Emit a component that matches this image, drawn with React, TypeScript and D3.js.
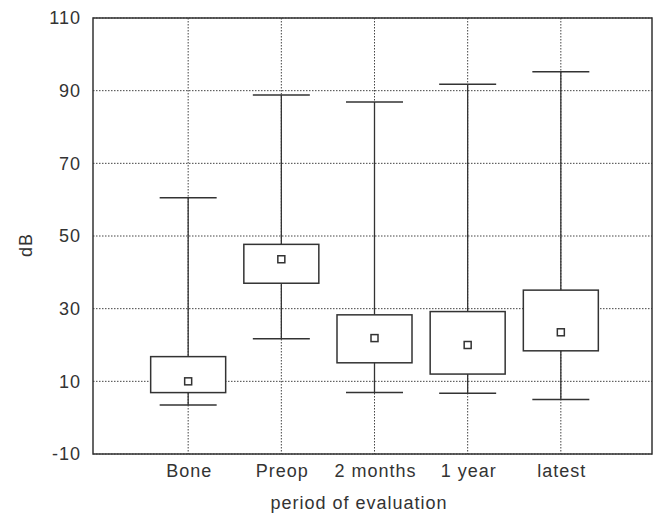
import React from "react";
import { scaleLinear, scalePoint } from "d3";

// hearing thresholds per evaluation period (dB)
const categories = ["Bone", "Preop", "2 months", "1 year", "latest"];
const whiskerLow = [3.5, 21.7, 6.9, 6.7, 5];
const boxLow = [6.9, 37, 15.1, 12, 18.4];
const medians = [10, 43.6, 21.9, 20, 23.5];
const boxHigh = [16.8, 47.7, 28.3, 29.2, 35.1];
const whiskerHigh = [60.5, 88.8, 86.9, 91.8, 95.2];
const yTicks = [-10, 10, 30, 50, 70, 90, 110];

const width = 658;
const height = 513;
const margin = { top: 18, right: 6, bottom: 59, left: 93 };
const font = "'Liberation Sans', Arial, sans-serif";
const ink = "#333";

function App() {
  // categories sit slightly right of the frame's centre in the original
  const x = scalePoint<string>()
    .domain(categories)
    .range([margin.left + 2, width - margin.right + 2])
    .padding(1);

  const y = scaleLinear()
    .domain([-10, 110])
    .range([height - margin.bottom, margin.top]);

  const boxW = 75;
  const capW = 57;
  const sq = 7;

  return (
    <svg
      width={width}
      height={height}
      style={{ position: "absolute", left: 0, top: 0, background: "#fff" }}
    >
      {/* grid */}
      {yTicks.map(t => (
        <line
          key={"h" + t}
          x1={margin.left}
          x2={width - margin.right}
          y1={y(t)}
          y2={y(t)}
          stroke="#444"
          strokeWidth={1}
          strokeDasharray="1.5,1.5"
        />
      ))}
      {categories.map(c => (
        <line
          key={"v" + c}
          x1={x(c)}
          x2={x(c)}
          y1={margin.top}
          y2={height - margin.bottom}
          stroke="#444"
          strokeWidth={1}
          strokeDasharray="1.5,1.5"
        />
      ))}

      {/* boxes */}
      {categories.map((c, i) => {
        const cx = x(c) as number;
        return (
          <g key={c} stroke={ink} strokeWidth={1.5} fill="none">
            <line x1={cx} x2={cx} y1={y(whiskerLow[i])} y2={y(whiskerHigh[i])} strokeWidth={1.3} />
            <line x1={cx - capW / 2} x2={cx + capW / 2} y1={y(whiskerLow[i])} y2={y(whiskerLow[i])} />
            <line x1={cx - capW / 2} x2={cx + capW / 2} y1={y(whiskerHigh[i])} y2={y(whiskerHigh[i])} />
            <rect
              x={cx - boxW / 2}
              y={y(boxHigh[i])}
              width={boxW}
              height={y(boxLow[i]) - y(boxHigh[i])}
              fill="#fff"
            />
            <rect
              x={cx - sq / 2}
              y={y(medians[i]) - sq / 2}
              width={sq}
              height={sq}
              fill="#fff"
              strokeWidth={1.5}
            />
          </g>
        );
      })}

      {/* frame */}
      <rect
        x={margin.left}
        y={margin.top}
        width={width - margin.left - margin.right}
        height={height - margin.top - margin.bottom}
        fill="none"
        stroke={ink}
        strokeWidth={1.5}
      />

      {/* y tick labels */}
      {yTicks.map(t => (
        <text
          key={"yl" + t}
          x={81}
          y={y(t)}
          dy="0.36em"
          textAnchor="end"
          fontFamily={font}
          fontSize={18}
          letterSpacing={1}
          fill={ink}
        >
          {t}
        </text>
      ))}

      {/* x tick labels */}
      {categories.map(c => (
        <text
          key={"xl" + c}
          x={(x(c) as number) + 1}
          y={477}
          textAnchor="middle"
          fontFamily={font}
          fontSize={18}
          letterSpacing={1}
          fill={ink}
        >
          {c}
        </text>
      ))}

      <text
        x={359}
        y={509}
        textAnchor="middle"
        fontFamily={font}
        fontSize={18}
        letterSpacing={1}
        fill={ink}
      >
        period of evaluation
      </text>

      <text
        transform={`translate(32,245) rotate(-90)`}
        textAnchor="middle"
        fontFamily={font}
        fontSize={18}
        letterSpacing={1}
        fill={ink}
      >
        dB
      </text>
    </svg>
  );
}

export default App;
